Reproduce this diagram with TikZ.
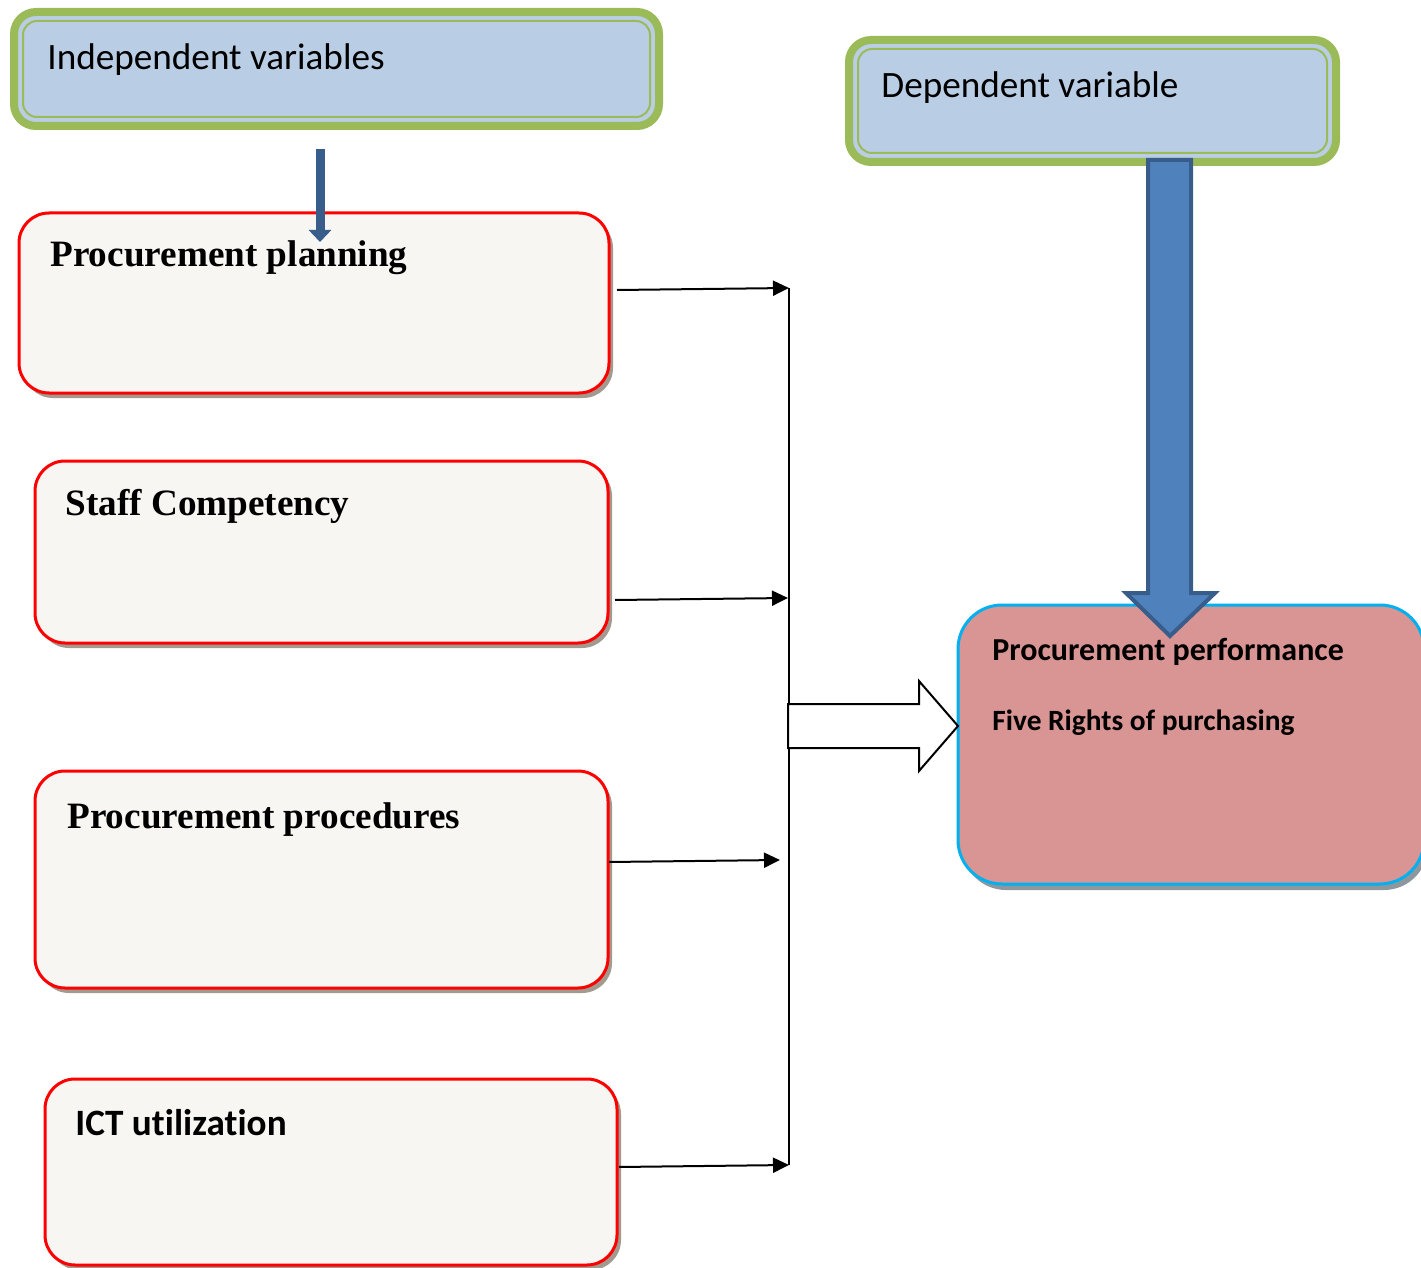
\documentclass[tikz,border=0pt]{standalone}
\usepackage{fontspec}
\usetikzlibrary{arrows.meta,shadows}
\newfontfamily\calibrif[Ligatures=NoCommon]{Carlito}
\newfontfamily\timesf{Liberation Serif}
\definecolor{gborder}{HTML}{9BBB59}
\definecolor{lblue}{HTML}{B9CDE5}
\definecolor{dblue}{HTML}{385D8A}
\definecolor{mblue}{HTML}{4F81BD}
\definecolor{boxfill}{HTML}{F7F6F2}
\definecolor{shadowc}{HTML}{A39A8F}
\definecolor{perffill}{HTML}{D99594}
\definecolor{perfline}{HTML}{00B0F0}
\definecolor{perfshadow}{HTML}{8C989E}
\tikzset{
  greenbox/.style={draw=gborder, line width=4pt, fill=lblue, rounded corners=11pt, inner sep=0pt},
  greeninner/.style={draw=gborder, line width=1pt, rounded corners=7pt, inner sep=0pt},
  redbox/.style={draw=red, line width=1.5pt, fill=boxfill, rounded corners=15pt, inner sep=0pt,
    drop shadow={shadow xshift=2pt, shadow yshift=-2.5pt, fill=shadowc, opacity=1}},
  perfbox/.style={draw=perfline, line width=1.5pt, fill=perffill, rounded corners=22pt, inner sep=0pt,
    drop shadow={shadow xshift=2pt, shadow yshift=-3pt, fill=perfshadow, opacity=1}},
  headtxt/.style={anchor=base west, inner sep=0pt, font=\calibrif\fontsize{18.6pt}{22pt}\selectfont},
  sertxt/.style={anchor=base west, inner sep=0pt, font=\timesf\bfseries\fontsize{18.6pt}{22pt}\selectfont},
  calbtxt/.style={anchor=base west, inner sep=0pt, font=\calibrif\bfseries\fontsize{18.6pt}{22pt}\selectfont},
  perftxt/.style={anchor=base west, inner sep=0pt, font=\calibrif\bfseries\fontsize{16pt}{19pt}\selectfont},
  perftxtb/.style={anchor=base west, inner sep=0pt, font=\calibrif\bfseries\fontsize{14.7pt}{18pt}\selectfont},
  conn/.style={draw=black, line width=1pt, -{Triangle[length=8pt,width=7.5pt]}},
}
\begin{document}
\begin{tikzpicture}[x=0.5pt,y=-0.5pt]
\useasboundingbox (0,0) rectangle (1421,1268);
\clip (0,0) rectangle (1421,1268);
% top green boxes
\node[greenbox, minimum width=322.5pt, minimum height=57pt] (indep) at (336.5,69) {};
\node[greeninner, minimum width=313.5pt, minimum height=48pt] (indepin) at (336.5,69) {};
\node[headtxt] (indeptxt) at (47,70) {Independent variables};
\node[greenbox, minimum width=243.5pt, minimum height=61pt] (dep) at (1092.5,101) {};
\node[greeninner, minimum width=234.5pt, minimum height=52pt] (depin) at (1092.5,101) {};
\node[headtxt] (deptxt) at (881,98) {Dependent variable};
% red boxes
\node[redbox, minimum width=295pt, minimum height=90pt] (b1) at (314,303) {};
\node[sertxt] (t1) at (50,266) {Procurement planning};
\node[redbox, minimum width=286.5pt, minimum height=91pt] (b2) at (321.5,552) {};
\node[sertxt] (t2) at (65,515) {Staff Competency};
\node[redbox, minimum width=286.5pt, minimum height=108.5pt] (b3) at (321.5,879.5) {};
\node[sertxt] (t3) at (67,828) {Procurement procedures};
\node[redbox, minimum width=286pt, minimum height=93pt] (b4) at (331,1172) {};
\node[calbtxt] (t4) at (75,1135) {ICT utilization};
% performance box
\node[perfbox, minimum width=233pt, minimum height=139.5pt] (perf) at (1191,744.5) {};
\node[perftxt] (pt1) at (992,660) {Procurement performance};
\node[perftxtb] (pt2) at (992,730) {Five Rights of purchasing};
% small blue arrow
\coordinate (sa1) at (320,149);
\coordinate (sa2) at (320,242);
\draw[draw=dblue, line width=4.5pt, -{Triangle[length=6pt,width=11pt]}] (sa1) -- (sa2);
% bus line and connectors
\coordinate (bustop) at (789,288);
\coordinate (busbot) at (789,1165);
\draw[line width=1pt] (bustop) -- (busbot);
\coordinate (c1s) at (617,290); \coordinate (c1e) at (789,288);
\coordinate (c2s) at (615,600); \coordinate (c2e) at (788,598);
\coordinate (c3s) at (609,862); \coordinate (c3e) at (780,860);
\coordinate (c4s) at (619,1167); \coordinate (c4e) at (789,1165);
\draw[conn] (c1s) -- (c1e);
\draw[conn] (c2s) -- (c2e);
\draw[conn] (c3s) -- (c3e);
\draw[conn] (c4s) -- (c4e);
% hollow arrow
\draw[fill=white, line width=1pt, line join=miter] (788,704) -- (919,704) -- (919,681) -- (958,726) -- (919,771) -- (919,748) -- (788,748) -- cycle;
% big blue arrow
\draw[fill=mblue, draw=dblue, line width=2pt, line join=miter] (1148,160) -- (1191,160) -- (1191,593) -- (1215,593) -- (1170,636) -- (1126,593) -- (1148,593) -- cycle;
\end{tikzpicture}
\end{document}
